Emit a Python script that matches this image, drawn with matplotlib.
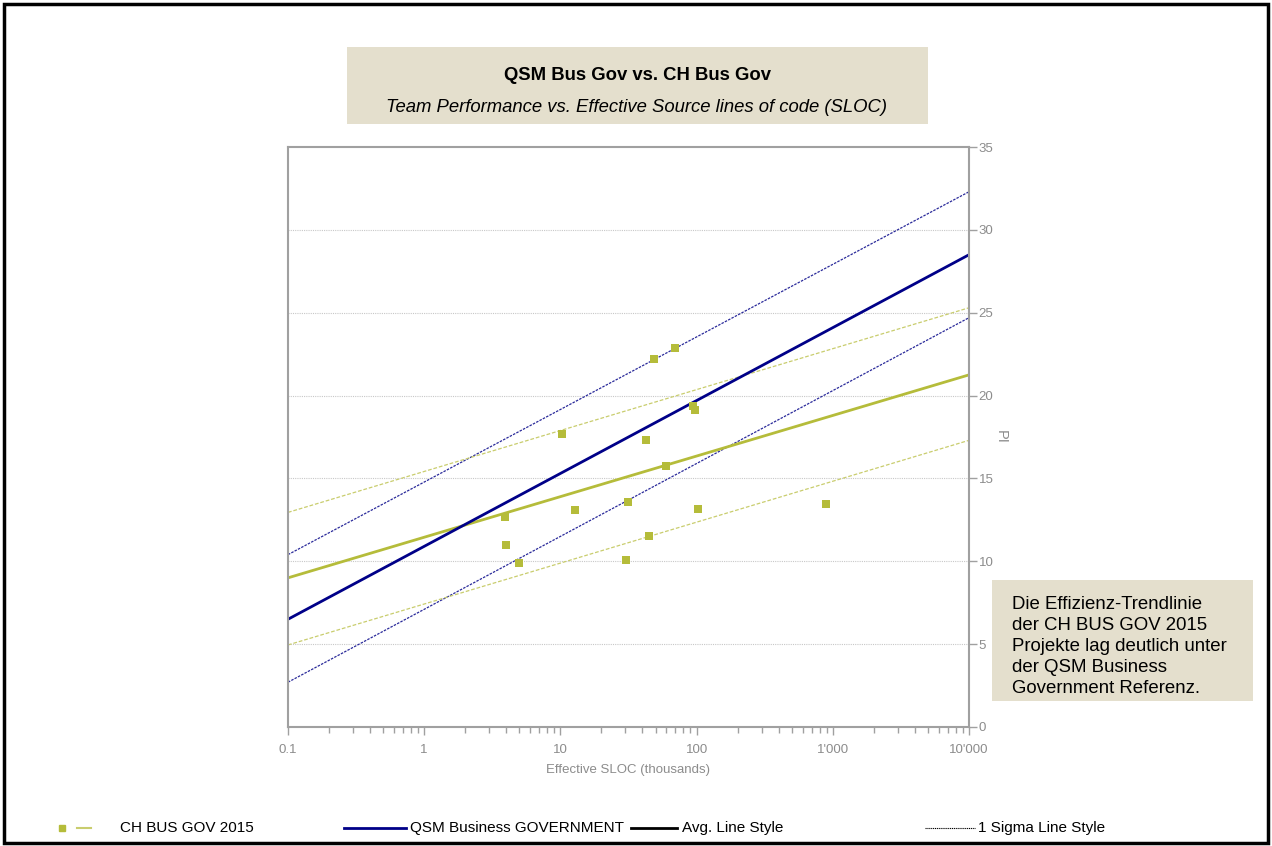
import matplotlib
matplotlib.use("Agg")
import matplotlib.pyplot as plt
from matplotlib.lines import Line2D
from matplotlib.patches import Rectangle
from matplotlib.ticker import FixedLocator, LogLocator, NullFormatter

plt.rcParams['font.family'] = ['Liberation Sans', 'DejaVu Sans']

# ---------------- data ----------------
# CH BUS GOV 2015 projects: effective SLOC (thousands) and PI
ch_sloc = [3.9, 4.0, 5.0, 10.2, 12.7, 30.5, 31.1, 42.2, 44.4, 48.3, 60.1, 68.9, 93.5, 96.6, 101.6, 889]
ch_pi = [12.7, 11.0, 9.9, 17.7, 13.1, 10.1, 13.6, 17.3, 11.5, 22.2, 15.75, 22.9, 19.4, 19.1, 13.15, 13.45]

# trend lines, values at both ends of the x range
line_x = [0.1, 10000]
qsm_avg = [6.5, 28.5]
qsm_hi = [10.4, 32.3]
qsm_lo = [2.7, 24.7]
ch_avg = [9.0, 21.25]
ch_hi = [12.95, 25.3]
ch_lo = [4.95, 17.3]

x_ticks = [0.1, 1, 10, 100, 1000, 10000]
x_labels = ['0.1', '1', '10', '100', "1'000", "10'000"]
y_ticks = [0, 5, 10, 15, 20, 25, 30, 35]

green = '#b5bc3a'
green_light = '#c9cd6e'
navy = '#000088'
grey = '#8c8c8c'

fig = plt.figure(figsize=(12.72, 8.46), dpi=100)
ax = fig.add_axes([0.2264, 0.1407, 0.5354, 0.6855])

# trend lines
ax.plot(line_x, qsm_hi, color='#2a2a9a', lw=0.9, ls=(0, (2, 1)))
ax.plot(line_x, qsm_lo, color='#2a2a9a', lw=0.9, ls=(0, (2, 1)))
ax.plot(line_x, ch_hi, color=green_light, lw=0.9, ls=(0, (3, 1.5)))
ax.plot(line_x, ch_lo, color=green_light, lw=0.9, ls=(0, (3, 1.5)))
ax.plot(line_x, ch_avg, color=green, lw=2)
ax.plot(line_x, qsm_avg, color=navy, lw=2)

ax.scatter(ch_sloc, ch_pi, marker='s', s=36, color=green, zorder=5, linewidths=0)

ax.set_xscale('log')
ax.set_xlim(0.1, 10000)
ax.set_ylim(0, 35)
ax.xaxis.set_major_locator(FixedLocator(x_ticks))
ax.set_xticklabels(x_labels)
ax.xaxis.set_minor_locator(LogLocator(base=10, subs=range(2, 10)))
ax.xaxis.set_minor_formatter(NullFormatter())
ax.set_yticks(y_ticks)
ax.yaxis.tick_right()
ax.yaxis.set_label_position('right')

for g in y_ticks[1:-1]:
    ax.axhline(g, color='#c8c8c8', lw=0.8, ls=(0, (1, 1)), zorder=0)

for s in ax.spines.values():
    s.set_color('#a0a0a0')
    s.set_linewidth(1.5)
ax.tick_params(axis='both', which='major', colors='#a0a0a0', labelcolor=grey,
               labelsize=9.5, length=6, width=1)
ax.tick_params(axis='x', which='minor', colors='#a0a0a0', length=4, width=1)
ax.tick_params(axis='x', pad=6)
ax.tick_params(axis='y', pad=1)

ax.set_xlabel('Effective SLOC (thousands)', color=grey, fontsize=9.5, labelpad=6)
ax.set_ylabel('PI', color=grey, fontsize=10.5, rotation=270, labelpad=10)

# title box
fig.add_artist(Rectangle((347 / 1272, 1 - 124 / 846), 581 / 1272, 77 / 846,
                         transform=fig.transFigure, facecolor='#e4dfcd', edgecolor='none'))
fig.text(637 / 1272, 1 - 75 / 846, 'QSM Bus Gov vs. CH Bus Gov', ha='center', va='center',
         fontsize=13.3, fontweight='bold')
fig.text(637 / 1272, 1 - 107 / 846, 'Team Performance vs. Effective Source lines of code (SLOC)',
         ha='center', va='center', fontsize=13.3, style='italic')

# annotation box
fig.add_artist(Rectangle((992 / 1272, 1 - 701 / 846), 261 / 1272, 121 / 846,
                         transform=fig.transFigure, facecolor='#e4dfcd', edgecolor='none'))
fig.text(1012 / 1272, 1 - 596 / 846,
         'Die Effizienz-Trendlinie\nder CH BUS GOV 2015\nProjekte lag deutlich unter\nder QSM Business\nGovernment Referenz.',
         ha='left', va='top', fontsize=13.4, linespacing=1.3)

# legend along the bottom
ly = 1 - 828 / 846
fig.add_artist(Line2D([62 / 1272], [ly], marker='s', ms=5, color=green, lw=0, transform=fig.transFigure))
fig.add_artist(Line2D([77 / 1272, 91 / 1272], [ly, ly], color=green_light, lw=1.5, transform=fig.transFigure))
fig.text(120 / 1272, ly, 'CH BUS GOV 2015', va='center', fontsize=11)
fig.add_artist(Line2D([344 / 1272, 406 / 1272], [ly, ly], color=navy, lw=2, transform=fig.transFigure))
fig.text(410 / 1272, ly, 'QSM Business GOVERNMENT', va='center', fontsize=11)
fig.add_artist(Line2D([631 / 1272, 677 / 1272], [ly, ly], color='black', lw=2, transform=fig.transFigure))
fig.text(682 / 1272, ly, 'Avg. Line Style', va='center', fontsize=11)
fig.add_artist(Line2D([925 / 1272, 975 / 1272], [ly, ly], color='black', lw=0.8, ls=(0, (1, 0.7)),
                      transform=fig.transFigure))
fig.text(978 / 1272, ly, '1 Sigma Line Style', va='center', fontsize=11)

# outer frame
fig.add_artist(Rectangle((4 / 1272, 3 / 846), 1264 / 1272, 839 / 846, transform=fig.transFigure,
                         facecolor='none', edgecolor='black', lw=2.5))

fig.savefig('out.png', dpi=100)
